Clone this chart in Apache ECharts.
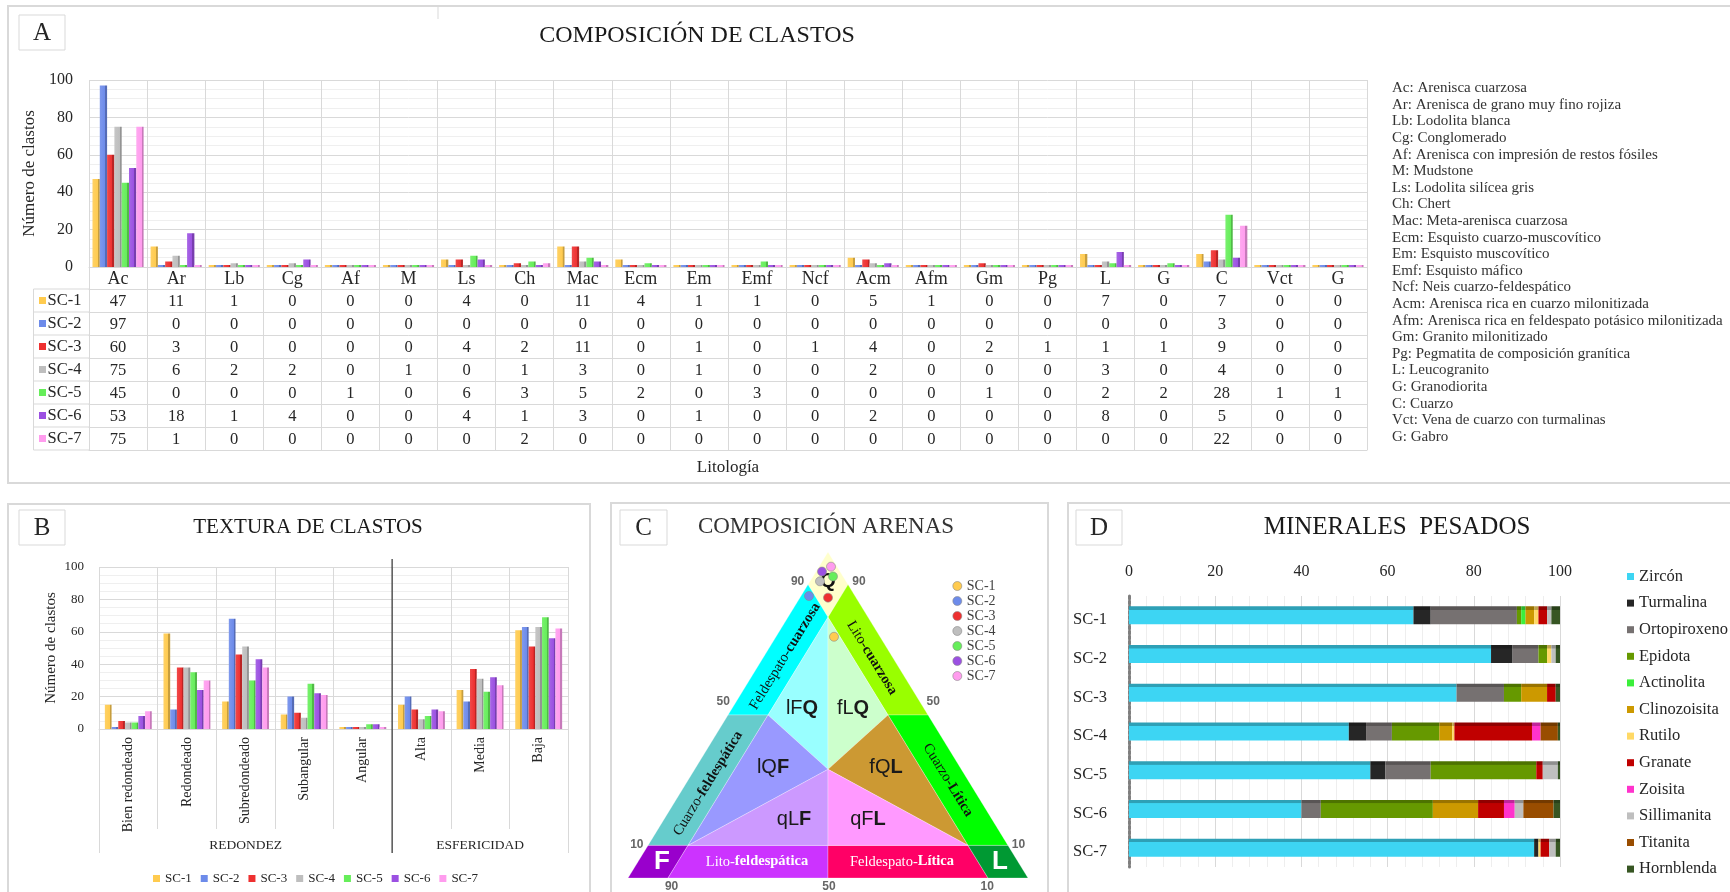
<!DOCTYPE html>
<html><head><meta charset="utf-8">
<script src="https://cdn.jsdelivr.net/npm/echarts@6/dist/echarts.min.js"></script>
<style>html,body{margin:0;padding:0;background:#fff}#c{width:1730px;height:892px}</style>
</head><body><div id="c"></div>
<script>
// ---------- shared ----------
const sampleNames = ['SC-1','SC-2','SC-3','SC-4','SC-5','SC-6','SC-7'];
const sampleColors = ['#FFCB4F','#6D8BEA','#EE3030','#BEBEBE','#66EE5A','#9B50E2','#FF9CEE'];

// ---------- A: composición de clastos ----------
const litoCats = ['Ac','Ar','Lb','Cg','Af','M','Ls','Ch','Mac','Ecm','Em','Emf','Ncf','Acm','Afm','Gm','Pg','L','G','C','Vct','G'];
const litoSC1 = [47,11,1,0,0,0,4,0,11,4,1,1,0,5,1,0,0,7,0,7,0,0];
const litoSC2 = [97,0,0,0,0,0,0,0,0,0,0,0,0,0,0,0,0,0,0,3,0,0];
const litoSC3 = [60,3,0,0,0,0,4,2,11,0,1,0,1,4,0,2,1,1,1,9,0,0];
const litoSC4 = [75,6,2,2,0,1,0,1,3,0,1,0,0,2,0,0,0,3,0,4,0,0];
const litoSC5 = [45,0,0,0,1,0,6,3,5,2,0,3,0,0,0,1,0,2,2,28,1,1];
const litoSC6 = [53,18,1,4,0,0,4,1,3,0,1,0,0,2,0,0,0,8,0,5,0,0];
const litoSC7 = [75,1,0,0,0,0,0,2,0,0,0,0,0,0,0,0,0,0,0,22,0,0];
const litoRows = [litoSC1,litoSC2,litoSC3,litoSC4,litoSC5,litoSC6,litoSC7];
const litoLegend = [
 'Ac: Arenisca cuarzosa','Ar: Arenisca de grano muy fino rojiza','Lb: Lodolita blanca','Cg: Conglomerado',
 'Af: Arenisca con impresión de restos fósiles','M: Mudstone','Ls: Lodolita silícea gris','Ch: Chert',
 'Mac: Meta-arenisca cuarzosa','Ecm: Esquisto cuarzo-muscovítico','Em: Esquisto muscovítico','Emf: Esquisto máfico',
 'Ncf: Neis cuarzo-feldespático','Acm: Arenisca rica en cuarzo milonitizada','Afm: Arenisca rica en feldespato potásico milonitizada',
 'Gm: Granito milonitizado','Pg: Pegmatita de composición granítica','L: Leucogranito','G: Granodiorita','C: Cuarzo',
 'Vct: Vena de cuarzo con turmalinas','G: Gabro'];

// ---------- B: textura de clastos ----------
const texturaCats = ['Bien redondeado','Redondeado','Subredondeado','Subangular','Angular','Alta','Media','Baja'];
const texturaGroups = [['REDONDEZ',0,4],['ESFERICIDAD',5,7]];
const texSC1 = [15,59,17,9,0,15,24,61];
const texSC2 = [0,12,68,20,0,20,17,63];
const texSC3 = [5,38,46,10,1,12,37,51];
const texSC4 = [4,38,51,7,0,6,31,63];
const texSC5 = [4,35,30,28,3,8,23,69];
const texSC6 = [8,24,43,22,3,12,32,56];
const texSC7 = [11,30,38,21,0,11,27,62];
const texRows = [texSC1,texSC2,texSC3,texSC4,texSC5,texSC6,texSC7];

// ---------- C: composición arenas (ternary Q-F-L, %) ----------
const sandQ = [74,86.5,86,91,92.5,94,95.5];
const sandF = [11.5,11.5,7,6.5,2.5,4.5,1.5];
const sandL = [14.5,2,7,2.5,5,1.5,3];
// classification fields, vertices as [Q,F,L]
const cFields = [
 ['#FFFFCC',[[100,0,0],[90,10,0],[80,10,10],[90,0,10]]],
 ['#00FFFF',[[90,10,0],[80,10,10],[50,40,10],[50,50,0]]],
 ['#99FF00',[[90,0,10],[80,10,10],[50,10,40],[50,0,50]]],
 ['#66CCCC',[[50,50,0],[50,40,10],[10,80,10],[10,90,0]]],
 ['#00FF00',[[50,0,50],[50,10,40],[10,10,80],[10,0,90]]],
 ['#9900CC',[[10,90,0],[10,80,10],[0,90,10],[0,100,0]]],
 ['#CC33FF',[[10,80,10],[10,45,45],[0,50,50],[0,90,10]]],
 ['#FF0066',[[10,10,80],[10,45,45],[0,50,50],[0,10,90]]],
 ['#009933',[[10,0,90],[10,10,80],[0,10,90],[0,0,100]]],
 ['#99FFFF',[[80,10,10],[50,40,10],[33.33,33.33,33.34]]],
 ['#CCFFCC',[[80,10,10],[50,10,40],[33.33,33.33,33.34]]],
 ['#9999FF',[[50,40,10],[10,80,10],[33.33,33.33,33.34]]],
 ['#CC9933',[[50,10,40],[10,10,80],[33.33,33.33,33.34]]],
 ['#CC99FF',[[10,80,10],[10,45,45],[33.33,33.33,33.34]]],
 ['#FF99FF',[[10,10,80],[10,45,45],[33.33,33.33,33.34]]]
];
// [normal, bold, Q, L]
const cFieldLabels = [['lF','Q',52,17.5],['fL','Q',52,30.25],['lQ','F',34,19.25],['fQ','L',34,47.5],['qL','F',18,32.5],['qF','L',18,51]];
// [normal, bold, Q, L, side(+1 left,-1 right,0 flat), colour]
const cStripLabels = [
 ['Feldespato-','cuarzosa',68,5.25,1,'#111'],['Lito-','cuarzosa',67.5,27.25,-1,'#111'],
 ['Cuarzo-','feldespática',29,5.5,1,'#111'],['Cuarzo-','Lítica',30,65,-1,'#111'],
 ['Lito-','feldespática',5,29.75,0,'#fff'],['Feldespato-','Lítica',5,66,0,'#fff']];
// [text, Q, L, colour, size]
const cPoleLabels = [['Q',91,4.5,'#111',20],['F',5,6,'#fff',26],['L',5,90.5,'#fff',26]];
// [text, x, y] in triangle plane
const cTickLabels = [['90',42.4,90.9],['90',57.75,90.9],['50',23.8,54.1],['50',76.3,54.1],['10',2.2,10.1],['10',97.6,10.1],['90',10.9,-2.7],['50',50.25,-2.7],['10',89.8,-2.7]];

// ---------- D: minerales pesados (%) ----------
const mineralNames = ['Zircón','Turmalina','Ortopiroxeno','Epidota','Actinolita','Clinozoisita','Rutilo','Granate','Zoisita','Sillimanita','Titanita','Hornblenda'];
const mineralColors = ['#3DD5F3','#262626','#767171','#669900','#3BEF3B','#CC9900','#FFD966','#C00000','#FF33CC','#BFBFBF','#994D00','#375623'];
const zircon      = [66,84,76,51,56,40,94];
const turmalina   = [4,5,0,4,3.5,0,1];
const ortopiroxeno= [20,6,11,6,10.5,4.5,0];
const epidota     = [1,2,4,11,24.5,26,0];
const actinolita  = [1,0,0,0,0,0,0];
const clinozoisita= [2,0,6,3,0,10.5,0];
const rutilo      = [1,1,0,0.5,0,0,0.5];
const granate     = [2,0,2,18,1.5,6,2];
const zoisita     = [0,0,0,2,0,2.5,0];
const sillimanita = [1,1,0,0,3.5,2,1.5];
const titanita    = [0,0,0,4,0,7,0];
const hornblenda  = [2,1,1,1,1,1.5,1];
const mineralRows = [zircon,turmalina,ortopiroxeno,epidota,actinolita,clinozoisita,rutilo,granate,zoisita,sillimanita,titanita,hornblenda];

// ================= rendering =================
const SERIF = '"Liberation Serif","Times New Roman",serif';
const SANS = '"Liberation Sans",Arial,sans-serif';
const TXT = '#262626';
const GRIDC = '#d9d9d9';
const chart = echarts.init(document.getElementById('c'));

function shade(hex, f){ // f<0 darken, f>0 lighten
  const n = parseInt(hex.slice(1),16);
  let r=(n>>16)&255, gg=(n>>8)&255, b=n&255;
  const t = f<0?0:255, p = Math.abs(f);
  r=Math.round(r+(t-r)*p); gg=Math.round(gg+(t-gg)*p); b=Math.round(b+(t-b)*p);
  return 'rgb('+r+','+gg+','+b+')';
}
function colGrad(c){
  return {type:'linear',x:0,y:0,x2:1,y2:0,colorStops:[
    {offset:0,color:shade(c,0.12)},{offset:0.72,color:c},{offset:0.74,color:shade(c,-0.22)},{offset:1,color:shade(c,-0.22)}]};
}
function rowGrad(c){
  return {type:'linear',x:0,y:0,x2:0,y2:1,colorStops:[
    {offset:0,color:shade(c,-0.25)},{offset:0.18,color:shade(c,-0.25)},{offset:0.2,color:c},{offset:1,color:c}]};
}

const GA = {left:89, top:80, width:1278, height:187};
const HEAD_H = 22, ROW_H = 23;
const GB = {left:99, top:567, width:469, height:162};
const GC = {left:628, top:552, width:400, height:326};
const GD = {left:1129, top:596, width:431, height:271};

const g = [];
function frame(x,y,w,h){ g.push({type:'rect',silent:true,shape:{x:x,y:y,width:w,height:h},style:{fill:'none',stroke:GRIDC,lineWidth:2}}); }
function letterBox(x,y,w,h,t){
  g.push({type:'rect',silent:true,shape:{x:x,y:y,width:w,height:h},style:{fill:'#fff',stroke:GRIDC,lineWidth:1}});
  g.push({type:'text',silent:true,x:x+w/2,y:y+h/2+1,style:{text:t,font:'25px '+SERIF,fill:TXT,align:'center',verticalAlign:'middle',textAlign:'center',textVerticalAlign:'middle'}});
}
function title(x,y,t,size,col){
  g.push({type:'text',silent:true,x:x,y:y,style:{text:t,font:size+'px '+SERIF,fill:col||'#1a1a1a',align:'center',verticalAlign:'middle',textAlign:'center',textVerticalAlign:'middle'}});
}
function line(x1,y1,x2,y2,col,w){ g.push({type:'line',silent:true,shape:{x1:x1,y1:y1,x2:x2,y2:y2},style:{stroke:col||GRIDC,lineWidth:w||1}}); }

frame(8,6,1760,477);
line(438,6,438,19,GRIDC,1);
frame(8,504,582,420);
frame(611,503,437,420);
frame(1068,503,700,420);
letterBox(19,15,46,35,'A');
letterBox(19,510,46,35,'B');
letterBox(620,510,47,35,'C');
letterBox(1076,510,46,35,'D');
title(697,36,'COMPOSICIÓN DE CLASTOS',24);
title(308,527,'TEXTURA DE CLASTOS',21);
title(826,527,'COMPOSICIÓN ARENAS',23,'#333');
title(1397,527,'MINERALES  PESADOS',25);

g.push({type:'text',silent:true,x:1392,y:80,style:{text:litoLegend.join('\n'),font:'15px '+SERIF,fill:'#333',lineHeight:16.6,align:'left',verticalAlign:'top',textAlign:'left',textVerticalAlign:'top'}});

const tableTop = GA.top + GA.height + HEAD_H;
const rowColLeft = 33.5;
for (let k=0;k<=sampleNames.length;k++) line(rowColLeft, tableTop+ROW_H*k, GA.left, tableTop+ROW_H*k);
line(rowColLeft, tableTop, rowColLeft, tableTop+ROW_H*sampleNames.length);
sampleNames.forEach((n,k)=>{
  const cy = tableTop + ROW_H*k + ROW_H/2;
  g.push({type:'rect',silent:true,shape:{x:39,y:cy-3.5,width:7,height:7},style:{fill:sampleColors[k]}});
  g.push({type:'text',silent:true,x:47.5,y:cy+0.5,style:{text:n,font:'16.5px '+SERIF,fill:TXT,align:'left',verticalAlign:'middle',textAlign:'left',textVerticalAlign:'middle'}});
});
g.push({id:'sepB',type:'line',silent:true,shape:{x1:0,y1:0,x2:0,y2:0},style:{stroke:'#404040',lineWidth:1.3},z:100});

// ---------- axes ----------
const xAxes = [];
const yAxes = [];
xAxes.push({gridIndex:0,type:'category',data:litoCats,position:'bottom',
  axisLine:{show:true,lineStyle:{color:GRIDC}},
  axisTick:{show:true,interval:0,length:HEAD_H,lineStyle:{color:GRIDC}},
  axisLabel:{interval:0,margin:3,fontSize:18,color:TXT,fontFamily:SERIF},
  splitLine:{show:true,interval:0,lineStyle:{color:GRIDC}}});
litoRows.forEach((row,k)=>{
  xAxes.push({gridIndex:0,type:'category',data:litoCats,position:'bottom',offset:HEAD_H+ROW_H*k,
    axisLine:{show:true,lineStyle:{color:GRIDC}},
    axisTick:{show:true,interval:0,length:ROW_H,lineStyle:{color:GRIDC}},
    axisLabel:{interval:0,margin:4,fontSize:16.5,color:TXT,fontFamily:SERIF,formatter:(v,i)=>String(row[i])},
    splitLine:{show:false}});
});
xAxes.push({gridIndex:0,type:'category',data:litoCats,position:'bottom',offset:HEAD_H+ROW_H*litoRows.length,
  axisLine:{show:true,lineStyle:{color:GRIDC}},axisTick:{show:false},axisLabel:{show:false},splitLine:{show:false},
  name:'Litología',nameLocation:'middle',nameGap:9,nameTextStyle:{fontSize:17,color:TXT,fontFamily:SERIF}});
yAxes.push({gridIndex:0,type:'value',min:0,max:100,interval:20,
  axisLine:{show:false},axisTick:{show:false},
  axisLabel:{fontSize:16,color:TXT,margin:16,fontFamily:SERIF},
  splitLine:{lineStyle:{color:GRIDC}},
  minorTick:{show:false,splitNumber:4},minorSplitLine:{show:true,lineStyle:{color:'#efefef'}},
  name:'Número de clastos',nameLocation:'middle',nameGap:42,nameTextStyle:{fontSize:17,color:TXT,fontFamily:SERIF}});
const AX_B = xAxes.length;
xAxes.push({gridIndex:1,type:'category',data:texturaCats,position:'bottom',
  axisLine:{show:true,lineStyle:{color:GRIDC}},
  axisTick:{show:true,interval:0,length:100,lineStyle:{color:GRIDC}},
  axisLabel:{interval:0,rotate:90,margin:8,fontSize:14,color:TXT,fontFamily:SERIF},
  splitLine:{show:true,interval:0,lineStyle:{color:GRIDC}}});
const groupStarts = texturaGroups.map(gr=>gr[1]);
const groupLabelAt = {};
texturaGroups.forEach(gr=>{ groupLabelAt[Math.round((gr[1]+gr[2])/2)] = gr[0]; });
xAxes.push({gridIndex:1,type:'category',data:texturaCats,position:'bottom',offset:100,
  axisLine:{show:false},
  axisTick:{show:true,interval:(i)=>groupStarts.indexOf(i)>=0,length:24,lineStyle:{color:GRIDC}},
  axisLabel:{interval:0,margin:9,fontSize:13.5,color:TXT,fontFamily:SERIF,formatter:(v,i)=>groupLabelAt[i]||''},
  splitLine:{show:false}});
yAxes.push({gridIndex:1,type:'value',min:0,max:100,interval:20,
  axisLine:{show:false},axisTick:{show:false},
  axisLabel:{fontSize:13,color:TXT,margin:15,fontFamily:SERIF},
  splitLine:{lineStyle:{color:GRIDC}},
  minorTick:{show:false,splitNumber:4},minorSplitLine:{show:true,lineStyle:{color:'#efefef'}},
  name:'Número de clastos',nameLocation:'middle',nameGap:40,nameTextStyle:{fontSize:15,color:TXT,fontFamily:SERIF}});
const AX_C = xAxes.length;
xAxes.push({gridIndex:2,type:'value',min:0,max:100,show:false});
yAxes.push({gridIndex:2,type:'value',min:0,max:100,show:false});
const AX_D = xAxes.length;
xAxes.push({gridIndex:3,type:'value',min:0,max:100,interval:20,position:'top',
  axisLine:{show:false},axisTick:{show:false},
  axisLabel:{fontSize:16,color:TXT,margin:16,fontFamily:SERIF},
  splitLine:{lineStyle:{color:GRIDC}},
  minorTick:{show:false,splitNumber:5},minorSplitLine:{show:true,lineStyle:{color:'#eeeeee'}}});
yAxes.push({gridIndex:3,type:'category',data:sampleNames,inverse:true,
  axisLine:{show:true,lineStyle:{color:'#7f7f7f',width:3,type:[3,2]}},axisTick:{show:false},
  axisLabel:{fontSize:16.5,color:TXT,margin:22,fontFamily:SERIF,verticalAlign:'top',lineHeight:9}});

// ---------- series ----------
const series = [];
sampleNames.forEach((n,k)=>{
  series.push({type:'bar',name:n,xAxisIndex:0,yAxisIndex:0,data:litoRows[k],barGap:'0%',barCategoryGap:'12%',barMinHeight:2,
    itemStyle:{color:colGrad(sampleColors[k])},emphasis:{disabled:true}});
});
sampleNames.forEach((n,k)=>{
  series.push({type:'bar',name:n,xAxisIndex:AX_B,yAxisIndex:1,data:texRows[k],barGap:'0%',barCategoryGap:'20%',barMinHeight:2,
    itemStyle:{color:colGrad(sampleColors[k])},emphasis:{disabled:true}});
});
const tern = (q,l)=>[l+q/2,q];
series.push({type:'custom',xAxisIndex:AX_C,yAxisIndex:2,silent:true,z:1,clip:false,
  data:cFields.map(f=>{const c=f[1].reduce((a,p)=>[a[0]+p[0]/f[1].length,a[1]+p[2]/f[1].length],[0,0]);return tern(c[0],c[1]);}),
  renderItem:(params,api)=>{
    const f = cFields[params.dataIndex];
    const pts = f[1].map(p=>api.coord(tern(p[0],p[2])));
    return {type:'polygon',shape:{points:pts},style:{fill:f[0],stroke:'rgba(255,255,255,0.35)',lineWidth:0.8}};
  }});
const cTexts = [];
cFieldLabels.forEach(([a,b,q,l])=>cTexts.push({p:tern(q,l),rot:0,text:'{n|'+a+'}{b|'+b+'}',
  rich:{n:{fontFamily:SANS,fontSize:20,fill:'#1a1a1a',color:'#1a1a1a'},b:{fontFamily:SANS,fontSize:20,fontWeight:'bold',fill:'#1a1a1a',color:'#1a1a1a'}}}));
cStripLabels.forEach(([a,b,q,l,side,col])=>cTexts.push({p:tern(q,l),rot:side,text:'{n|'+a+'}{b|'+b+'}',
  rich:{n:{fontFamily:SERIF,fontSize:14.5,fill:col,color:col},b:{fontFamily:SERIF,fontSize:14.5,fontWeight:'bold',fill:col,color:col}}}));
cPoleLabels.forEach(([t,q,l,col,size])=>cTexts.push({p:tern(q,l),rot:0,text:'{b|'+t+'}',
  rich:{b:{fontFamily:SANS,fontSize:size,fontWeight:'bold',fill:col,color:col}}}));
cTickLabels.forEach(([t,x,y])=>cTexts.push({p:[x,y],rot:0,text:'{n|'+t+'}',
  rich:{n:{fontFamily:SANS,fontSize:12,fontWeight:'bold',fill:'#666',color:'#666'}}}));
series.push({type:'custom',xAxisIndex:AX_C,yAxisIndex:2,silent:true,z:3,clip:false,
  data:cTexts.map(t=>t.p),
  renderItem:(params,api)=>{
    const t = cTexts[params.dataIndex];
    const p = api.coord(t.p);
    const f0 = api.coord([0,0]), q0 = api.coord([50,100]);
    const ang = Math.atan2(f0[1]-q0[1], q0[0]-f0[0]);
    return {type:'text',x:p[0],y:p[1],rotation:t.rot*ang,
      style:{text:t.text,rich:t.rich,align:'center',verticalAlign:'middle',textAlign:'center',textVerticalAlign:'middle'}};
  }});
sampleNames.forEach((n,k)=>{
  series.push({type:'scatter',name:n,xAxisIndex:AX_C,yAxisIndex:2,z:5,symbolSize:9,
    data:[tern(sandQ[k],sandL[k])],
    itemStyle:{color:sampleColors[k],borderColor:'#8a8a8a',borderWidth:0.6,opacity:1},emphasis:{disabled:true}});
});
mineralNames.forEach((n,j)=>{
  series.push({type:'bar',name:n,stack:'min',xAxisIndex:AX_D,yAxisIndex:3,data:mineralRows[j],barWidth:18,
    itemStyle:{color:rowGrad(mineralColors[j])},emphasis:{disabled:true}});
});

const option = {
  animation:false,
  backgroundColor:'#ffffff',
  textStyle:{fontFamily:SERIF},
  grid:[
    {left:GA.left,top:GA.top,width:GA.width,height:GA.height},
    {left:GB.left,top:GB.top,width:GB.width,height:GB.height},
    {left:GC.left,top:GC.top,width:GC.width,height:GC.height},
    {left:GD.left,top:GD.top,width:GD.width,height:GD.height}
  ],
  xAxis:xAxes,
  yAxis:yAxes,
  legend:[
    {data:sampleNames.map((n,k)=>({name:n,itemStyle:{color:sampleColors[k]}})),left:148,top:867,orient:'horizontal',icon:'rect',itemWidth:7,itemHeight:7,itemGap:9,selectedMode:false,
      textStyle:{fontSize:13,color:TXT,fontFamily:SERIF}},
    {data:sampleNames.map((n,k)=>({name:n,itemStyle:{color:sampleColors[k],borderColor:'#8a8a8a',borderWidth:0.6}})),left:947.5,top:574,orient:'vertical',icon:'circle',itemWidth:9,itemHeight:9,itemGap:1,selectedMode:false,
      textStyle:{fontSize:14,lineHeight:14,color:'#404040',fontFamily:SERIF}},
    {data:mineralNames.map((n,j)=>({name:n,itemStyle:{color:mineralColors[j]}})),left:1622,top:563,orient:'vertical',icon:'rect',itemWidth:7,itemHeight:7,itemGap:9.6,selectedMode:false,
      textStyle:{fontSize:16.5,color:TXT,fontFamily:SERIF}}
  ],
  series:series,
  graphic:{elements:g}
};
chart.setOption(option);

const sepIdx = texturaGroups[1][1];
const xa = chart.convertToPixel({xAxisIndex:AX_B,yAxisIndex:1},[sepIdx-1,0]);
const xb = chart.convertToPixel({xAxisIndex:AX_B,yAxisIndex:1},[sepIdx,100]);
const sx = (xa[0]+xb[0])/2;
chart.setOption({graphic:{elements:[{id:'sepB',type:'line',shape:{x1:sx,y1:xb[1]-8,x2:sx,y2:xa[1]+124}}]}});
</script></body></html>
